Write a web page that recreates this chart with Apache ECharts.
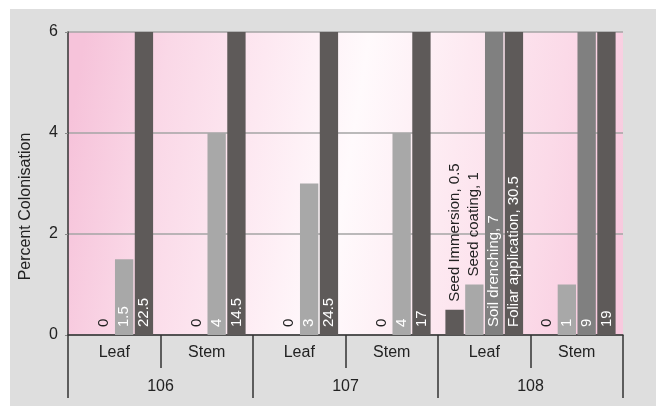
<!DOCTYPE html>
<html>
<head>
<meta charset="utf-8">
<script src="https://cdn.jsdelivr.net/npm/echarts@6/dist/echarts.min.js"></script>
<style>
  html, body { margin: 0; padding: 0; background: #fff; }
  #main { width: 657px; height: 408px; }
</style>
</head>
<body>
<div id="main"></div>
<script>
// categories
var subCategories = ['Leaf', 'Stem', 'Leaf', 'Stem', 'Leaf', 'Stem'];
var groups = ['106', '107', '108'];
var seriesNames = ['Seed Immersion', 'Seed coating', 'Soil drenching', 'Foliar application'];

// values (bars above 6 are cut at the top of the plot)
var seedImmersion = [null, null, null, null, 0.5, 0];
var seedCoating = [0, 0, 0, 0, 1, 1];
var soilDrenching = [1.5, 4, 3, 4, 7, 9];
var foliarApplication = [22.5, 14.5, 24.5, 17, 30.5, 19];

// y axis
var yMin = 0, yMax = 6, yStep = 2;

// category where the label also shows the series name
var namedLabelCategory = 4;

var dark = '#5e5a59', light = '#a8a8a8', medium = '#808080';
var font = 'Liberation Sans, Arial, sans-serif';
var plotH = 303;

var myChart = echarts.init(document.getElementById('main'));

function makeData(values, name) {
  return values.map(function (v, i) {
    if (v === null) return null;
    var text = i === namedLabelCategory ? name + ', ' + v : String(v);
    var barPx = Math.min(v, yMax) * plotH / yMax;
    var label = { formatter: text, color: '#fff', position: 'insideBottom' };
    if (v === 0) {
      label.color = '#222';
    } else if (text.length * 7.5 + 14 > barPx) {
      label.color = '#222';
      label.position = 'top';
    }
    return { value: v, label: label };
  });
}

function makeSeries(name, values, color) {
  return {
    name: name,
    type: 'bar',
    data: makeData(values, name),
    barCategoryGap: '16%',
    barGap: '8%',
    clip: true,
    itemStyle: { color: color },
    label: {
      show: true,
      rotate: 90,
      align: 'left',
      verticalAlign: 'middle',
      distance: 8,
      fontSize: 15,
      fontFamily: font
    }
  };
}

myChart.setOption({
  backgroundColor: '#fff',
  animation: false,
  graphic: [
    { type: 'rect', z: -20, shape: { x: 10, y: 9, width: 646, height: 397 }, style: { fill: '#dedede' } },
    {
      type: 'rect', z: -10,
      shape: { x: 68, y: 32, width: 555, height: 303 },
      style: {
        fill: new echarts.graphic.LinearGradient(0, 0.35, 1, 0.65, [
          { offset: 0, color: '#f6c3da' },
          { offset: 0.15, color: '#fad8e7' },
          { offset: 0.32, color: '#fde8f1' },
          { offset: 0.5, color: '#fffafc' },
          { offset: 0.68, color: '#fde9f1' },
          { offset: 0.85, color: '#fbdae8' },
          { offset: 1, color: '#f8c9de' }
        ])
      }
    }
  ],
  grid: { left: 68, right: 34, top: 32, bottom: 73 },
  xAxis: [
    {
      type: 'category',
      data: subCategories,
      position: 'bottom',
      axisLine: { lineStyle: { color: '#333', width: 1.5 } },
      axisTick: { show: true, interval: 0, length: 33, lineStyle: { color: '#333', width: 1.5 } },
      axisLabel: { interval: 0, margin: 10, fontSize: 16, color: '#222', fontFamily: font }
    },
    {
      type: 'category',
      data: groups,
      position: 'bottom',
      axisLine: { show: false },
      axisTick: { show: true, interval: 0, length: 63, lineStyle: { color: '#333', width: 1.5 } },
      axisLabel: { interval: 0, margin: 44, fontSize: 16, color: '#222', fontFamily: font },
      splitLine: { show: false }
    }
  ],
  yAxis: {
    type: 'value',
    min: yMin,
    max: yMax,
    interval: yStep,
    name: 'Percent Colonisation',
    nameLocation: 'middle',
    nameGap: 34,
    nameTextStyle: { fontSize: 16, color: '#222', fontFamily: font, padding: [0, 46, 0, 0] },
    axisLine: { show: true, lineStyle: { color: '#333', width: 1.5 } },
    axisTick: { show: true, length: 3, lineStyle: { color: '#888' } },
    axisLabel: { margin: 10, fontSize: 16, color: '#222', fontFamily: font },
    splitLine: { lineStyle: { color: '#a4a4a4', width: 1.5 } }
  },
  series: [
    makeSeries(seriesNames[0], seedImmersion, dark),
    makeSeries(seriesNames[1], seedCoating, light),
    makeSeries(seriesNames[2], soilDrenching, function (p) {
      return p.dataIndex >= 4 ? medium : light;
    }),
    makeSeries(seriesNames[3], foliarApplication, dark)
  ]
});
</script>
</body>
</html>
